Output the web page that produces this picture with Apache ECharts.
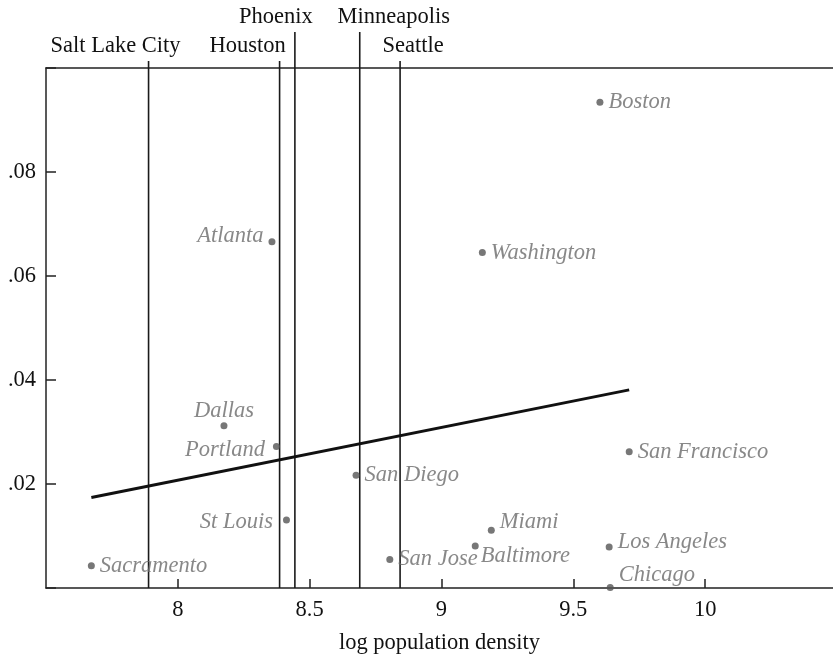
<!DOCTYPE html>
<html>
<head>
<meta charset="utf-8">
<script src="https://cdn.jsdelivr.net/npm/echarts@6/dist/echarts.min.js"></script>
<style>
  html, body { margin: 0; padding: 0; background: #fff; }
  #chart { width: 833px; height: 654px; }
</style>
</head>
<body>
<div id="chart"></div>
<script>
// Cities plotted against log population density
var cityNames = ['Boston', 'Washington', 'Atlanta', 'Dallas', 'Portland', 'San Diego', 'St Louis',
  'Sacramento', 'San Jose', 'Miami', 'Baltimore', 'San Francisco', 'Los Angeles', 'Chicago'];
var logDensity = [9.601, 9.155, 8.357, 8.175, 8.374, 8.676, 8.412,
  7.672, 8.804, 9.189, 9.128, 9.712, 9.636, 9.640];
var yValues = [0.0934, 0.0645, 0.0666, 0.0312, 0.0272, 0.0217, 0.0131,
  0.0043, 0.0055, 0.0111, 0.0081, 0.0262, 0.0079, 0.0001];

// Fitted line endpoints
var fitX = [7.672, 9.712];
var fitY = [0.0174, 0.0381];

// Cities shown as vertical reference lines
var refNames = ['Salt Lake City', 'Houston', 'Phoenix', 'Minneapolis', 'Seattle'];
var refDensity = [7.889, 8.386, 8.444, 8.690, 8.843];

// Axis ticks
var yTicks = [0.02, 0.04, 0.06, 0.08];
var yTickLabels = ['.02', '.04', '.06', '.08'];
var xTicks = [8, 8.5, 9, 9.5, 10];

// Label placement per city (layout only)
var pointLabelStyle = {
  'Boston': { position: 'right' },
  'Washington': { position: 'right' },
  'Atlanta': { position: 'left', offset: [0, -6] },
  'Dallas': { position: 'top', distance: 1, offset: [0, 1] },
  'Portland': { position: 'left', offset: [-3, 4] },
  'San Diego': { position: 'right' },
  'St Louis': { position: 'left', offset: [-5, 2] },
  'Sacramento': { position: 'right' },
  'San Jose': { position: 'right' },
  'Miami': { position: 'right', offset: [0, -8] },
  'Baltimore': { position: 'right', offset: [-3, 10] },
  'San Francisco': { position: 'right' },
  'Los Angeles': { position: 'right', offset: [0, -5] },
  'Chicago': { position: 'right', offset: [0, -12] }
};
// rise: how far the line extends above the plot; dx: label centre offset
var refLabelStyle = [
  { rise: 7, dx: -33, labelY: 46 },
  { rise: 7, dx: -32, labelY: 46 },
  { rise: 36, dx: -19, labelY: 17 },
  { rise: 36, dx: 34, labelY: 17 },
  { rise: 7, dx: 13, labelY: 46 }
];

var FONT = '"Liberation Serif", "Times New Roman", serif';
var FS = 22.5;
var X_MIN = 7.5, X_MAX = 10.485;

var points = cityNames.map(function (n, i) {
  var ls = pointLabelStyle[n] || {};
  return {
    name: n,
    value: [logDensity[i], yValues[i]],
    label: {
      position: ls.position || 'right',
      distance: ls.distance != null ? ls.distance : 5,
      offset: ls.offset || [0, 0]
    }
  };
});

var fitData = fitX.map(function (x, i) { return [x, fitY[i]]; });
var refData = refDensity.map(function (x, i) { return { name: refNames[i], value: [x, 0] }; });

var chart = echarts.init(document.getElementById('chart'), null, { renderer: 'canvas' });
chart.setOption({
  backgroundColor: '#fff',
  animation: false,
  grid: { left: 46, right: 0, top: 68, bottom: 66, containLabel: false, outerBoundsMode: 'none' },
  xAxis: [{
    type: 'value',
    min: X_MIN, max: X_MAX,
    interval: 0.5,
    name: 'log population density',
    nameLocation: 'middle',
    nameGap: 44,
    nameTextStyle: { fontFamily: FONT, fontSize: FS, color: '#111' },
    axisLine: { show: true, lineStyle: { color: '#222', width: 1.5 } },
    axisTick: { show: true, inside: true, length: 9, lineStyle: { color: '#222', width: 1.5 } },
    axisLabel: {
      fontFamily: FONT, fontSize: FS, color: '#111', margin: 11,
      showMinLabel: false, showMaxLabel: false,
      formatter: function (v) { return xTicks.indexOf(v) >= 0 ? String(v) : ''; }
    },
    splitLine: { show: false }
  }, {
    type: 'value',
    position: 'top',
    min: X_MIN, max: X_MAX,
    axisLine: { show: true, lineStyle: { color: '#222', width: 1.5 } },
    axisTick: { show: false },
    axisLabel: { show: false },
    splitLine: { show: false }
  }],
  yAxis: {
    type: 'value',
    min: 0, max: 0.1,
    interval: 0.02,
    axisLine: { show: true, lineStyle: { color: '#222', width: 1.5 } },
    axisTick: { show: true, inside: true, length: 10, lineStyle: { color: '#222', width: 1.5 } },
    axisLabel: {
      fontFamily: FONT, fontSize: FS, color: '#111', margin: 10,
      formatter: function (v) {
        for (var i = 0; i < yTicks.length; i++) {
          if (Math.abs(v - yTicks[i]) < 1e-9) return yTickLabels[i];
        }
        return '';
      }
    },
    splitLine: { show: false }
  },
  series: [{
    type: 'custom',
    name: 'reference cities',
    clip: false,
    z: 1,
    data: refData,
    renderItem: function (params, api) {
      var i = params.dataIndex;
      var st = refLabelStyle[i];
      var x = api.value(0);
      var bottom = api.coord([x, 0]);
      var top = api.coord([x, 0.1]);
      return {
        type: 'group',
        children: [{
          type: 'line',
          shape: { x1: bottom[0], y1: bottom[1], x2: bottom[0], y2: top[1] - st.rise },
          style: { stroke: '#1a1a1a', lineWidth: 1.6 }
        }, {
          type: 'text',
          x: bottom[0] + st.dx,
          y: st.labelY,
          style: {
            text: refNames[i],
            align: 'center',
            verticalAlign: 'middle',
            fontFamily: FONT,
            fontSize: FS,
            fill: '#111'
          }
        }]
      };
    }
  }, {
    type: 'line',
    name: 'fit',
    data: fitData,
    showSymbol: false,
    z: 2,
    lineStyle: { color: '#111', width: 3 },
    itemStyle: { color: '#111' }
  }, {
    type: 'scatter',
    name: 'cities',
    data: points,
    z: 3,
    symbol: 'circle',
    symbolSize: 7,
    itemStyle: { color: '#555555' },
    label: {
      show: true,
      formatter: '{b}',
      fontFamily: FONT,
      fontStyle: 'italic',
      fontSize: FS,
      color: '#6a6a6a'
    }
  }]
});
</script>
</body>
</html>
